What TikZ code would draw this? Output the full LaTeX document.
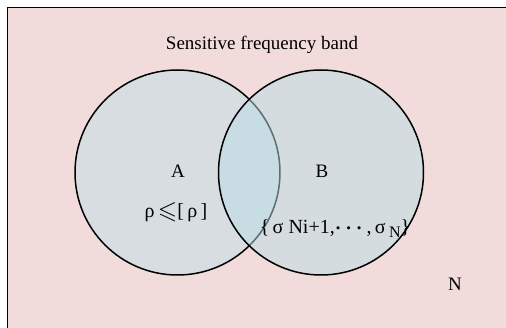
\documentclass[tikz,border=0pt]{standalone}
\usepackage{amssymb}
\usepackage{amsmath}
\usepackage{graphicx}
\usepackage{fontspec}
\setmainfont{Liberation Serif}
\begin{document}
\begin{tikzpicture}[x=1pt,y=-1pt,
  lbl/.style={inner sep=0pt,font=\fontsize{19}{22}\selectfont},
  circ/.style={line width=1.5pt}]
\definecolor{bgpink}{RGB}{242,220,219}
\definecolor{circA}{RGB}{215,221,224}
\definecolor{circB}{RGB}{186,221,230}
\useasboundingbox (0,0) rectangle (506,328);
\fill[white] (0,0) rectangle (506,328);
\fill[bgpink] (7.5,7.5) rectangle (520,340);
\draw[line width=1.6pt] (7.5,345) -- (7.5,7.5) -- (520,7.5);
\node[circle,minimum size=205pt,inner sep=0pt,fill=circA,draw=black,circ] (A) at (177.5,172.5) {};
\node[circle,minimum size=205pt,inner sep=0pt,fill=circB,fill opacity=0.5,draw=black,draw opacity=1,circ] (B) at (321,172.5) {};
\node[lbl] (title) at (262,45) {Sensitive frequency band};
\node[lbl] (la) at (178,171.5) {A};
\node[lbl] (lb) at (322,171.5) {B};
\node[lbl,font=\fontsize{20}{22}\selectfont] (rho) at (176,212) {ρ\,\raisebox{-1pt}{\scalebox{1.25}{$\leqslant$}}[\,ρ\,]};
\node[lbl,font=\fontsize{20}{22}\selectfont] (sig) at (335,229) {\{\,σ Ni+1,$\boldsymbol{\cdots}$,\,σ\,\raisebox{-4pt}{\fontsize{16}{16}\selectfont N}\}};
\node[lbl] (n) at (455,284) {N};
\end{tikzpicture}
\end{document}
